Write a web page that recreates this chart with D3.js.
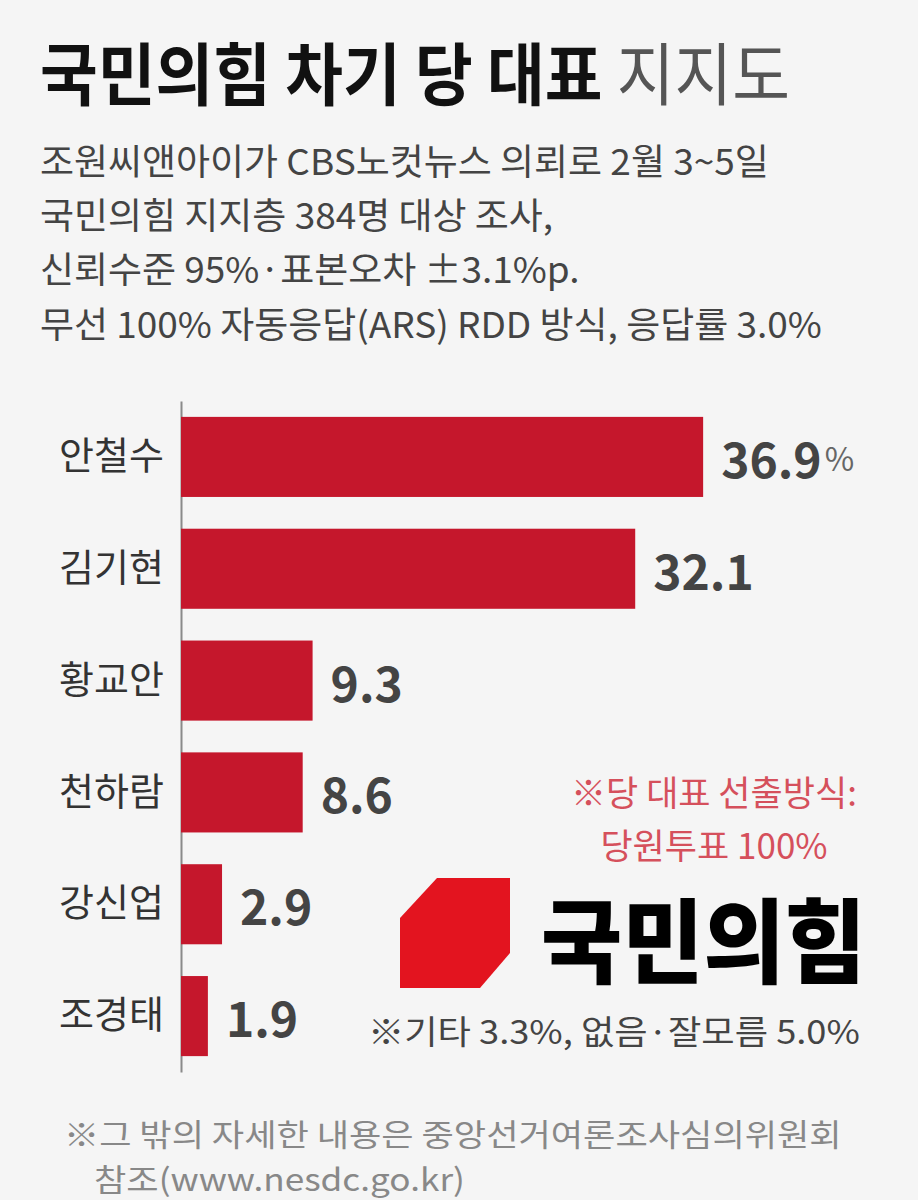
<!DOCTYPE html>
<html><head><meta charset="utf-8">
<script src="https://cdn.jsdelivr.net/npm/d3@7"></script>
<style>
html,body{margin:0;padding:0;background:#f5f5f5;}
svg{display:block;font-family:"Noto Sans CJK KR","Noto Sans",sans-serif;}
</style></head><body>
<svg id="c" width="918" height="1200"></svg>
<script>
const categories = ["안철수","김기현","황교안","천하람","강신업","조경태"];
const values = [36.9, 32.1, 9.3, 8.6, 2.9, 1.9];
const titleBold = "국민의힘 차기 당 대표";
const titleLight = "지지도";
const subtitleLines = [
  "조원씨앤아이가 CBS노컷뉴스 의뢰로 2월 3~5일",
  "국민의힘 지지층 384명 대상 조사,",
  "신뢰수준 95%·표본오차 ±3.1%p.",
  "무선 100% 자동응답(ARS) RDD 방식, 응답률 3.0%"
];
const noteLines = ["※당 대표 선출방식:", "당원투표 100%"];
const otherNote = "※기타 3.3%, 없음·잘모름 5.0%";
const footLines = ["※그 밖의 자세한 내용은 중앙선거여론조사심의위원회", "참조(www.nesdc.go.kr)"];
const partyName = "국민의힘";

const svg = d3.select("#c");
svg.append("rect").attr("width",918).attr("height",1200).attr("fill","#f5f5f5");

function squeeze(sel, sx){
  sel.each(function(){
    const t = d3.select(this);
    const x = +t.attr("data-x"), y = +t.attr("data-y");
    t.attr("transform", `translate(${x},${y}) scale(${sx},1)`);
  });
}
function fitWidth(node, w){ return w / node.getComputedTextLength(); }

// Title
const title = svg.append("text").attr("data-x",40).attr("data-y",70)
  .attr("dominant-baseline","central").attr("font-size",68);
title.append("tspan").text(titleBold).attr("font-weight",700).attr("fill","#111");
title.append("tspan").text(" " + titleLight).attr("font-weight",400).attr("fill","#555");
squeeze(title, fitWidth(title.node(), 750));

// Subtitle
const subY = [160, 214, 268, 323];
const subs = svg.selectAll(".sub").data(subtitleLines).join("text").attr("class","sub")
  .attr("data-x",40).attr("data-y",(d,i)=>subY[i])
  .attr("dominant-baseline","central").attr("font-size",36).attr("fill","#444")
  .text(d=>d);
const subScale = fitWidth(subs.nodes()[3], 782);
squeeze(subs, subScale);

// Chart
const x = d3.scaleLinear().domain([0,40]).range([181,747]);
const y = d3.scaleBand().domain(categories).range([401,1072]).paddingInner(0.284).paddingOuter(0.142);

const axis = svg.append("g").attr("transform","translate(181,0)")
  .call(d3.axisLeft(y).tickSize(0).tickPadding(17));
axis.select(".domain").attr("stroke","#8a8a8a").attr("stroke-width",2);
axis.selectAll(".tick text").attr("font-size",38).attr("fill","#333")
  .attr("font-family",'"Noto Sans CJK KR",sans-serif');

svg.selectAll(".bar").data(values).join("rect").attr("class","bar")
  .attr("x", x(0)).attr("y",(d,i)=>y(categories[i]))
  .attr("width", d=>x(d)-x(0)).attr("height", y.bandwidth())
  .attr("fill","#c5172c");

const vl = svg.selectAll(".val").data(values).join("text").attr("class","val")
  .attr("x", d=>x(d)+18).attr("y",(d,i)=>y(categories[i])+y.bandwidth()/2)
  .attr("dominant-baseline","central").attr("font-size",48).attr("font-weight",700)
  .attr("fill","#444");
vl.append("tspan").text(d=>d.toFixed(1));
vl.filter((d,i)=>i===0).append("tspan").text("%").attr("font-size",32).attr("font-weight",400).attr("fill","#666").attr("dx",3);

// Red note
svg.selectAll(".note").data(noteLines).join("text").attr("class","note")
  .attr("x",714).attr("y",(d,i)=>[790,843][i]).attr("text-anchor","middle")
  .attr("dominant-baseline","central").attr("font-size",35).attr("fill","#d5505c")
  .text(d=>d);

// Logo
svg.append("path").attr("d","M437,878 L510,878 L510,953 L480,988 L400,988 L400,918 Z").attr("fill","#e3141f");
const pn = svg.append("text").attr("data-x",541).attr("data-y",936)
  .attr("dominant-baseline","central").attr("font-size",92).attr("font-weight",900).attr("fill","#000")
  .text(partyName);
squeeze(pn, fitWidth(pn.node(), 325));

// Other note
const on = svg.append("text").attr("data-x",368).attr("data-y",1030)
  .attr("dominant-baseline","central").attr("font-size",33).attr("fill","#444").text(otherNote);
squeeze(on, fitWidth(on.node(), 492));

// Footnotes
const fY = [1133, 1178], fX = [64, 94];
const fl = svg.selectAll(".foot").data(footLines).join("text").attr("class","foot")
  .attr("data-x",(d,i)=>fX[i]).attr("data-y",(d,i)=>fY[i])
  .attr("dominant-baseline","central").attr("font-size",31).attr("fill","#888").text(d=>d);
squeeze(fl, fitWidth(fl.nodes()[0], 778));
</script>
</body></html>
